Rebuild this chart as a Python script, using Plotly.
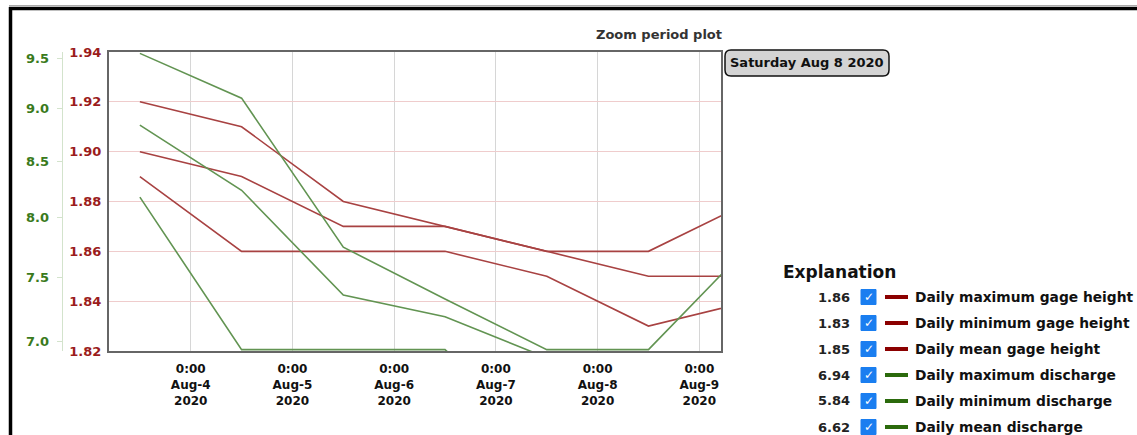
import math
import plotly.graph_objects as go

# ---------------- data ----------------
dates = ["2020-08-03 12:00", "2020-08-04 12:00", "2020-08-05 12:00", "2020-08-06 12:00",
         "2020-08-07 12:00", "2020-08-08 12:00", "2020-08-09 12:00"]
gh_max = [1.92, 1.91, 1.88, 1.87, 1.86, 1.86, 1.88]
gh_min = [1.89, 1.86, 1.86, 1.86, 1.85, 1.83, 1.84]
gh_mean = [1.90, 1.89, 1.87, 1.87, 1.86, 1.85, 1.85]
q_max = [9.55, 9.10, 7.75, 7.33, 6.94, 6.94, 7.77]
q_min = [8.18, 6.94, 6.94, 6.94, 6.30, 5.84, None]
q_mean = [8.84, 8.24, 7.36, 7.19, 6.88, 6.62, None]

series_names = ["Daily maximum gage height", "Daily minimum gage height", "Daily mean gage height",
                "Daily maximum discharge", "Daily minimum discharge", "Daily mean discharge"]
selected_index = 5  # Saturday Aug 8 2020
selected_label = "Saturday Aug 8 2020"

x_tick_vals = ["2020-08-04", "2020-08-05", "2020-08-06", "2020-08-07", "2020-08-08", "2020-08-09"]
x_tick_text = ["0:00<br>Aug-4<br>2020", "0:00<br>Aug-5<br>2020", "0:00<br>Aug-6<br>2020",
               "0:00<br>Aug-7<br>2020", "0:00<br>Aug-8<br>2020", "0:00<br>Aug-9<br>2020"]
gh_ticks = [1.82, 1.84, 1.86, 1.88, 1.90, 1.92, 1.94]
q_ticks = [7.0, 7.5, 8.0, 8.5, 9.0, 9.5]

# ---------------- geometry ----------------
W, H = 1137, 435
ML, MR, MT, MB = 40, 416, 52, 84
PW = W - ML - MR
PH = H - MT - MB


def px(x):
    return (x - ML) / PW


def py(y):
    return (H - MB - y) / PH


RED_LINE = "rgb(168,66,66)"
GREEN_LINE = "rgb(98,148,82)"
RED_SW = "#8b0000"
GREEN_SW = "#2b6a0c"
FONT = "DejaVu Sans"

fig = go.Figure()

gh_series = [gh_max, gh_min, gh_mean]
q_series = [q_max, q_min, q_mean]
for name, vals in zip(series_names[3:], q_series):
    fig.add_trace(go.Scatter(x=dates, y=vals, name=name, mode="lines", yaxis="y2",
                             line=dict(color=GREEN_LINE, width=1.6), connectgaps=False))
for name, vals in zip(series_names[:3], gh_series):
    fig.add_trace(go.Scatter(x=dates, y=vals, name=name, mode="lines", yaxis="y",
                             line=dict(color=RED_LINE, width=1.6)))

shapes = []
annotations = []

# outer black border (page frame)
shapes.append(dict(type="line", xref="paper", yref="paper", x0=px(9), x1=px(W + 5), y0=py(5.5), y1=py(5.5),
                   line=dict(color="#aaaaaa", width=1)))
shapes.append(dict(type="line", xref="paper", yref="paper", x0=px(9), x1=px(W + 5), y0=py(8.5), y1=py(8.5),
                   line=dict(color="black", width=3.5)))
shapes.append(dict(type="line", xref="paper", yref="paper", x0=px(10.5), x1=px(10.5), y0=py(7), y1=py(H + 5),
                   line=dict(color="black", width=3.5)))

# title
annotations.append(dict(xref="paper", yref="paper", x=px(724), y=py(34), xanchor="right", yanchor="middle",
                        text="<b>Zoom period plot</b>", showarrow=False,
                        font=dict(family=FONT, size=13, color="#333333")))

# rounded date box
bx0, bx1, by0, by1, r = 725, 889, 50, 76, 6
path = (f"M {px(bx0 + r)},{py(by0)} L {px(bx1 - r)},{py(by0)} Q {px(bx1)},{py(by0)} {px(bx1)},{py(by0 + r)} "
        f"L {px(bx1)},{py(by1 - r)} Q {px(bx1)},{py(by1)} {px(bx1 - r)},{py(by1)} "
        f"L {px(bx0 + r)},{py(by1)} Q {px(bx0)},{py(by1)} {px(bx0)},{py(by1 - r)} "
        f"L {px(bx0)},{py(by0 + r)} Q {px(bx0)},{py(by0)} {px(bx0 + r)},{py(by0)} Z")
shapes.append(dict(type="path", xref="paper", yref="paper", path=path, fillcolor="#d4d4d4",
                   line=dict(color="#111111", width=1.5)))
annotations.append(dict(xref="paper", yref="paper", x=px((bx0 + bx1) / 2), y=py((by0 + by1) / 2),
                        xanchor="center", yanchor="middle", text=f"<b>{selected_label}</b>", showarrow=False,
                        font=dict(family=FONT, size=13, color="#111111")))

# explanation legend
annotations.append(dict(xref="paper", yref="paper", x=px(781), y=py(272), xanchor="left", yanchor="middle",
                        text="<b>Explanation</b>", showarrow=False,
                        font=dict(family=FONT, size=17, color="#111111")))
all_series = gh_series + q_series
for i, (name, vals) in enumerate(zip(series_names, all_series)):
    yc = 297 + 26 * i
    val = vals[selected_index]
    annotations.append(dict(xref="paper", yref="paper", x=px(852), y=py(yc), xanchor="right", yanchor="middle",
                            text=f"<b>{val:.2f}</b>", showarrow=False,
                            font=dict(family=FONT, size=13, color="#222222")))
    shapes.append(dict(type="rect", xref="paper", yref="paper", x0=px(861), x1=px(876),
                       y0=py(yc - 7.5), y1=py(yc + 7.5), fillcolor="#1a7ef0", line=dict(color="#1a7ef0", width=1)))
    annotations.append(dict(xref="paper", yref="paper", x=px(868.5), y=py(yc), xanchor="center", yanchor="middle",
                            text="<b>✓</b>", showarrow=False,
                            font=dict(family=FONT, size=12, color="white")))
    col = RED_SW if i < 3 else GREEN_SW
    shapes.append(dict(type="line", xref="paper", yref="paper", x0=px(885), x1=px(908), y0=py(yc), y1=py(yc),
                       line=dict(color=col, width=4)))
    annotations.append(dict(xref="paper", yref="paper", x=px(913), y=py(yc), xanchor="left", yanchor="middle",
                            text=f"<b>{name}</b>", showarrow=False,
                            font=dict(family=FONT, size=13.8, color="#111111")))

x_domain_start = px(109)

fig.update_layout(
    width=W, height=H,
    margin=dict(l=ML, r=MR, t=MT, b=MB, pad=0),
    paper_bgcolor="white", plot_bgcolor="white",
    showlegend=False,
    shapes=shapes, annotations=annotations,
    xaxis=dict(
        type="date", domain=[x_domain_start, 1],
        range=["2020-08-03 04:43", "2020-08-09 05:07"],
        tickvals=x_tick_vals, ticktext=x_tick_text,
        tickfont=dict(family=FONT, size=12, color="#111111", weight="bold"),
        ticks="outside", ticklen=6, tickcolor="rgba(0,0,0,0)",
        showgrid=True, gridcolor="#d6d6d6", gridwidth=1,
        showline=True, linecolor="#666666", linewidth=2, mirror=True,
        zeroline=False, layer="below traces",
    ),
    yaxis=dict(
        range=[1.82, 1.94], tickvals=gh_ticks, ticktext=[f"{v:.2f}" for v in gh_ticks],
        tickfont=dict(family=FONT, size=13, color="#9b1c1c", weight="bold"),
        ticks="outside", ticklen=3, tickcolor="rgba(0,0,0,0)",
        showgrid=True, gridcolor="#efcccc", gridwidth=1,
        showline=True, linecolor="#666666", linewidth=2, mirror=True,
        zeroline=False, layer="below traces",
    ),
    yaxis2=dict(
        type="log", overlaying="y", anchor="free", side="left", position=px(61.7),
        range=[math.log10(6.93), math.log10(9.564)],
        tickvals=q_ticks, ticktext=[f"{v:.1f}" for v in q_ticks],
        tickfont=dict(family=FONT, size=13, color="#3a7a1c", weight="bold"),
        ticks="outside", ticklen=5, tickcolor="#d3e3cc", ticklabelstandoff=5,
        showgrid=False, showline=True, linecolor="#d3e3cc", linewidth=1,
        zeroline=False,
    ),
)

fig.write_html("out.html", config={"displayModeBar": False},
               post_script="document.body.style.margin='0';document.body.style.overflow='hidden';")
